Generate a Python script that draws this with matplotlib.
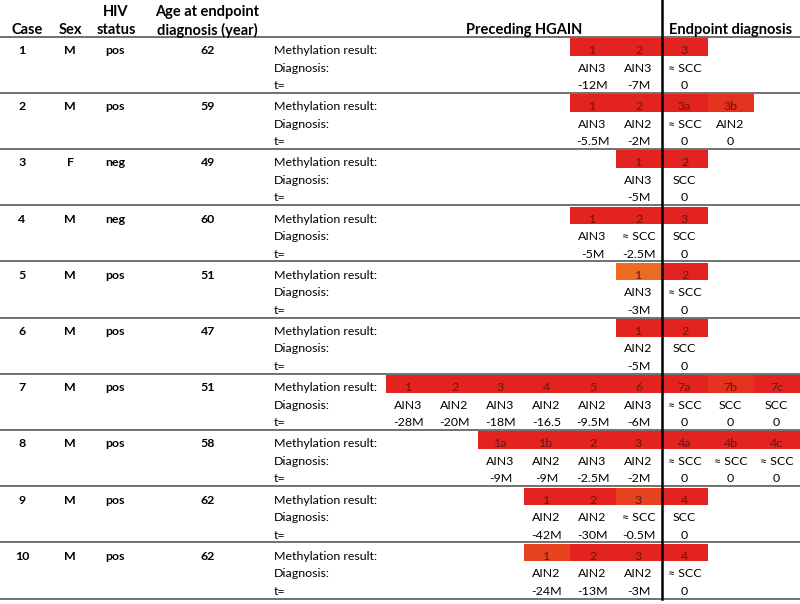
import matplotlib.pyplot as plt
from matplotlib.patches import Rectangle
from matplotlib.colors import LinearSegmentedColormap

plt.rcParams['font.family'] = ['Lato', 'DejaVu Sans']

# case-level data
case_ids = ['1', '2', '3', '4', '5', '6', '7', '8', '9', '10']
sex = ['M', 'M', 'F', 'M', 'M', 'M', 'M', 'M', 'M', 'M']
hiv = ['pos', 'pos', 'neg', 'neg', 'pos', 'pos', 'pos', 'pos', 'pos', 'pos']
age = [62, 59, 49, 60, 51, 47, 51, 58, 62, 62]

# preceding HGAIN samples per case: labels, diagnosis, time, methylation level (0 = low, 1 = high)
pre_labels = [['1', '2'], ['1', '2'], ['1'], ['1', '2'], ['1'], ['1'],
              ['1', '2', '3', '4', '5', '6'], ['1a', '1b', '2', '3'],
              ['1', '2', '3'], ['1', '2', '3']]
pre_diag = [['AIN3', 'AIN3'], ['AIN3', 'AIN2'], ['AIN3'], ['AIN3', '≈ SCC'], ['AIN3'], ['AIN2'],
            ['AIN3', 'AIN2', 'AIN3', 'AIN2', 'AIN2', 'AIN3'], ['AIN3', 'AIN2', 'AIN3', 'AIN2'],
            ['AIN2', 'AIN2', '≈ SCC'], ['AIN2', 'AIN2', 'AIN2']]
pre_time = [['-12M', '-7M'], ['-5.5M', '-2M'], ['-5M'], ['-5M', '-2.5M'], ['-3M'], ['-5M'],
            ['-28M', '-20M', '-18M', '-16.5', '-9.5M', '-6M'], ['-9M', '-9M', '-2.5M', '-2M'],
            ['-42M', '-30M', '-0.5M'], ['-24M', '-13M', '-3M']]
pre_level = [[1.0, 1.0], [1.0, 1.0], [1.0], [1.0, 1.0], [0.3], [1.0],
             [1.0, 1.0, 1.0, 1.0, 1.0, 1.0], [1.0, 1.0, 1.0, 1.0],
             [1.0, 1.0, 0.7], [0.7, 1.0, 1.0]]

# endpoint samples per case
end_labels = [['3'], ['3a', '3b'], ['2'], ['3'], ['2'], ['2'],
              ['7a', '7b', '7c'], ['4a', '4b', '4c'], ['4'], ['4']]
end_diag = [['≈ SCC'], ['≈ SCC', 'AIN2'], ['SCC'], ['SCC'], ['≈ SCC'], ['SCC'],
            ['≈ SCC', 'SCC', 'SCC'], ['≈ SCC', '≈ SCC', '≈ SCC'], ['SCC'], ['≈ SCC']]
end_time = [['0'], ['0', '0'], ['0'], ['0'], ['0'], ['0'],
            ['0', '0', '0'], ['0', '0', '0'], ['0'], ['0']]
end_level = [[1.0], [1.0, 0.85], [1.0], [1.0], [1.0], [1.0],
             [1.0, 0.85, 1.0], [1.0, 1.0, 1.0], [1.0], [1.0]]

cmap = LinearSegmentedColormap.from_list('meth', ['#ee8a22', '#e2231f'])

W, H = 800, 604
fig = plt.figure(figsize=(W / 100, H / 100), dpi=100)
ax = fig.add_axes([0, 0, 1, 1])
ax.set_xlim(0, W)
ax.set_ylim(H, 0)
ax.axis('off')

top = 36.5
row_h = 56.2
col_w = 46
split_x = 661.5
hfs = 10.5
fs = 8.9

# header
ax.text(27, 30, 'Case', ha='center', va='center', fontsize=hfs, fontweight='bold')
ax.text(70, 30, 'Sex', ha='center', va='center', fontsize=hfs, fontweight='bold')
ax.text(116, 12, 'HIV', ha='center', va='center', fontsize=hfs, fontweight='bold')
ax.text(116, 30, 'status', ha='center', va='center', fontsize=hfs, fontweight='bold')
ax.text(207, 12, 'Age at endpoint', ha='center', va='center', fontsize=hfs, fontweight='bold')
ax.text(207, 30, 'diagnosis (year)', ha='center', va='center', fontsize=hfs, fontweight='bold')
ax.text(524, 30, 'Preceding HGAIN', ha='center', va='center', fontsize=hfs, fontweight='bold')
ax.text(731, 30, 'Endpoint diagnosis', ha='center', va='center', fontsize=hfs, fontweight='bold')

n = len(case_ids)
for i in range(n + 1):
    y = top + i * row_h
    ax.plot([0, W], [y, y], color='#4a4a4a', lw=1.1, solid_capstyle='butt')

for i in range(n):
    T = top + i * row_h
    y1, y2, y3 = T + 14, T + 31.5, T + 49
    ax.text(22, y1, case_ids[i], ha='center', va='center', fontsize=fs, fontweight='bold')
    ax.text(70, y1, sex[i], ha='center', va='center', fontsize=fs, fontweight='bold')
    ax.text(115, y1, hiv[i], ha='center', va='center', fontsize=fs, fontweight='bold')
    ax.text(208, y1, str(age[i]), ha='center', va='center', fontsize=fs, fontweight='bold')
    ax.text(274, y1, 'Methylation result:', ha='left', va='center', fontsize=fs)
    ax.text(274, y2, 'Diagnosis:', ha='left', va='center', fontsize=fs)
    ax.text(274, y3, 't=', ha='left', va='center', fontsize=fs)

    cells = []
    k = len(pre_labels[i])
    for j in range(k):
        x0 = split_x - (k - j) * col_w
        cells.append((x0, pre_labels[i][j], pre_diag[i][j], pre_time[i][j], pre_level[i][j]))
    for j in range(len(end_labels[i])):
        x0 = split_x + j * col_w
        cells.append((x0, end_labels[i][j], end_diag[i][j], end_time[i][j], end_level[i][j]))

    for x0, lab, dg, tm, lv in cells:
        ax.add_patch(Rectangle((x0, T + 1.5), col_w, 17.5, facecolor=cmap(float(lv)), edgecolor='none'))
        xc = x0 + col_w / 2
        ax.text(xc, y1, lab, ha='center', va='center', fontsize=fs, color='#6e1212')
        ax.text(xc, y2, dg, ha='center', va='center', fontsize=fs)
        ax.text(xc, y3, tm, ha='center', va='center', fontsize=fs)

ax.plot([split_x, split_x], [0, top + n * row_h], color='black', lw=1.8)

fig.savefig('out.png', dpi=100)
